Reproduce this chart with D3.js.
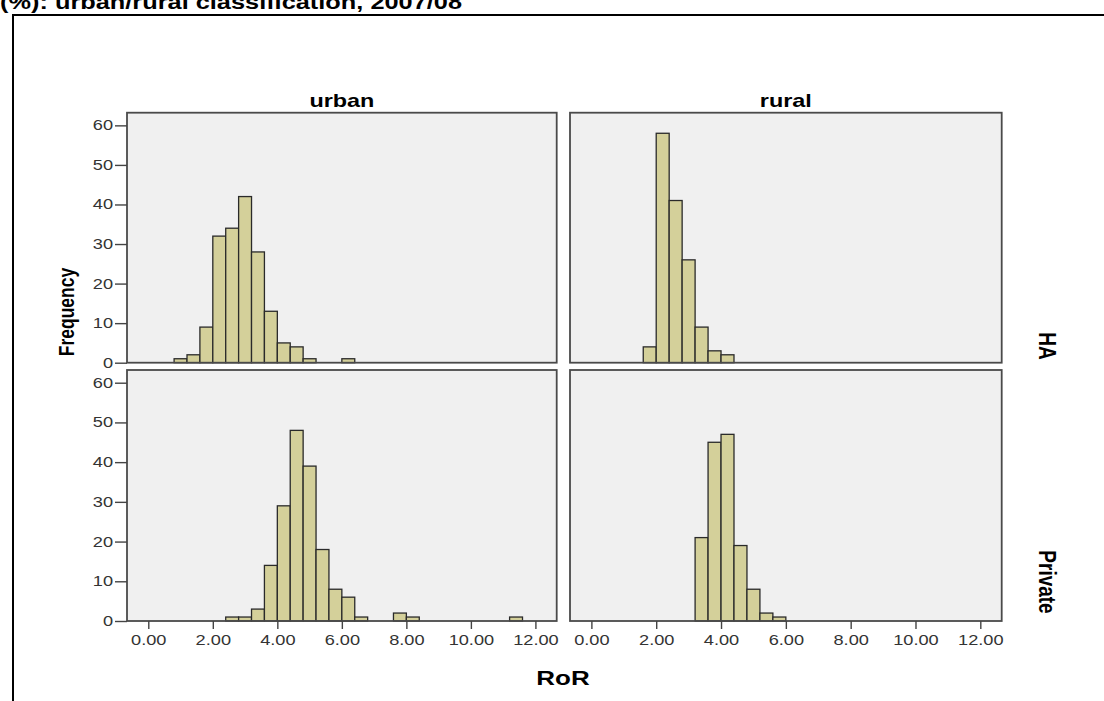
<!DOCTYPE html>
<html>
<head>
<meta charset="utf-8">
<script src="https://cdn.jsdelivr.net/npm/d3@7"></script>
<style>
  html, body { margin: 0; padding: 0; background: #fff; }
  svg { display: block; font-family: "Liberation Sans", Arial, sans-serif; }
</style>
</head>
<body>
<svg id="chart" width="1104" height="701"></svg>
<script>
// Histogram bins: 27 bins of width 0.4 starting at 0.8
const binStart = 0.8;
const binWidth = 0.4;

// Frequencies per bin
const urbanHA      = [1, 2, 9, 32, 34, 42, 28, 13, 5, 4, 1, 0, 0, 1, 0, 0, 0, 0, 0, 0, 0, 0, 0, 0, 0, 0, 0];
const ruralHA      = [0, 0, 4, 58, 41, 26, 9, 3, 2, 0, 0, 0, 0, 0, 0, 0, 0, 0, 0, 0, 0, 0, 0, 0, 0, 0, 0];
const urbanPrivate = [0, 0, 0, 0, 1, 1, 3, 14, 29, 48, 39, 18, 8, 6, 1, 0, 0, 2, 1, 0, 0, 0, 0, 0, 0, 0, 1];
const ruralPrivate = [0, 0, 0, 0, 0, 0, 21, 45, 47, 19, 8, 2, 1, 0, 0, 0, 0, 0, 0, 0, 0, 0, 0, 0, 0, 0, 0];

const columns = ["urban", "rural"];
const rows = ["HA", "Private"];
const xTicks = [0, 2, 4, 6, 8, 10, 12];
const yTicks = [0, 10, 20, 30, 40, 50, 60];
const titleText = "(%): urban/rural classification, 2007/08";

const panels = [
  { col: 0, row: 0, counts: urbanHA },
  { col: 1, row: 0, counts: ruralHA },
  { col: 0, row: 1, counts: urbanPrivate },
  { col: 1, row: 1, counts: ruralPrivate }
];

const svg = d3.select("#chart");

// Text is set slightly wide, as in the exported figure
const WIDE = 1.3;

// Layout of the facet grid
const colX = [[127, 556.7], [570, 1001.7]];
const rowY = [[112.7, 362.7], [370, 621]];
const xDomain = [-0.66, 12.66];
const yDomain = [0, 63.2];

// Title (partly above the page edge) and frame
svg.append("text")
  .attr("transform", `translate(0,9) scale(${WIDE},1)`)
  .attr("font-size", 19.5).attr("font-weight", "bold")
  .attr("fill", "#000")
  .text(titleText);

svg.append("path")
  .attr("d", "M13,701 L13,15 L1104,15")
  .attr("fill", "none").attr("stroke", "#000").attr("stroke-width", 2);

const xScales = colX.map(r => d3.scaleLinear().domain(xDomain).range(r));
const yScales = rowY.map(r => d3.scaleLinear().domain(yDomain).range([r[1], r[0]]));

panels.forEach(p => {
  const x = xScales[p.col], y = yScales[p.row];
  const g = svg.append("g");
  const [x0, x1] = colX[p.col], [y0, y1] = rowY[p.row];

  g.append("rect")
    .attr("x", x0).attr("y", y0)
    .attr("width", x1 - x0).attr("height", y1 - y0)
    .attr("fill", "#f0f0f0");

  const bins = p.counts.map((c, i) => ({ lo: binStart + i * binWidth, hi: binStart + (i + 1) * binWidth, c }));
  g.selectAll("rect.bar").data(bins).join("rect")
    .attr("class", "bar")
    .attr("x", d => x(d.lo))
    .attr("y", d => y(d.c))
    .attr("width", d => x(d.hi) - x(d.lo))
    .attr("height", d => y(0) - y(d.c))
    .attr("fill", "#d4d09a")
    .attr("stroke", "#2a2a2a")
    .attr("stroke-width", 1.3);

  g.append("rect")
    .attr("x", x0).attr("y", y0)
    .attr("width", x1 - x0).attr("height", y1 - y0)
    .attr("fill", "none").attr("stroke", "#4a4a4a").attr("stroke-width", 1.8);

  if (p.col === 0) {
    const ax = g.append("g")
      .attr("transform", `translate(${x0},0)`)
      .call(d3.axisLeft(y).tickValues(yTicks).tickSize(12).tickPadding(2).tickFormat(d3.format("d")));
    ax.select(".domain").remove();
    ax.selectAll("line").attr("stroke", "#444").attr("stroke-width", 1.4);
    ax.selectAll("text")
      .attr("font-size", 14).attr("fill", "#333")
      .attr("font-family", "'Liberation Sans', Arial, sans-serif")
      .attr("x", 0)
      .attr("transform", `translate(-14,0) scale(${WIDE},1)`);
  }
  if (p.row === 1) {
    const ax = g.append("g")
      .attr("transform", `translate(0,${y1})`)
      .call(d3.axisBottom(x).tickValues(xTicks).tickSize(8).tickPadding(6).tickFormat(d3.format(".2f")));
    ax.select(".domain").remove();
    ax.selectAll("line").attr("stroke", "#444").attr("stroke-width", 1.4);
    ax.selectAll("text")
      .attr("font-size", 14).attr("fill", "#333")
      .attr("font-family", "'Liberation Sans', Arial, sans-serif")
      .attr("transform", `scale(${WIDE},1)`);
  }
});

// Column headers
columns.forEach((c, i) => {
  svg.append("text")
    .attr("transform", `translate(${(colX[i][0] + colX[i][1]) / 2},107) scale(${WIDE},1)`)
    .attr("text-anchor", "middle")
    .attr("font-size", 18).attr("font-weight", "bold")
    .text(c);
});

// Row labels on the right
const rowLabelY = [346, 582];
rows.forEach((r, i) => {
  svg.append("text")
    .attr("transform", `translate(1039,${rowLabelY[i]}) rotate(90) scale(1,${WIDE})`)
    .attr("text-anchor", "middle")
    .attr("font-size", 19).attr("font-weight", "bold")
    .text(r);
});

// Axis titles
svg.append("text")
  .attr("transform", `translate(74,312) rotate(-90) scale(1,${WIDE})`)
  .attr("text-anchor", "middle")
  .attr("font-size", 17.5).attr("font-weight", "bold")
  .text("Frequency");

svg.append("text")
  .attr("transform", `translate(563,685) scale(${WIDE},1)`)
  .attr("text-anchor", "middle")
  .attr("font-size", 20).attr("font-weight", "bold")
  .text("RoR");
</script>
</body>
</html>
